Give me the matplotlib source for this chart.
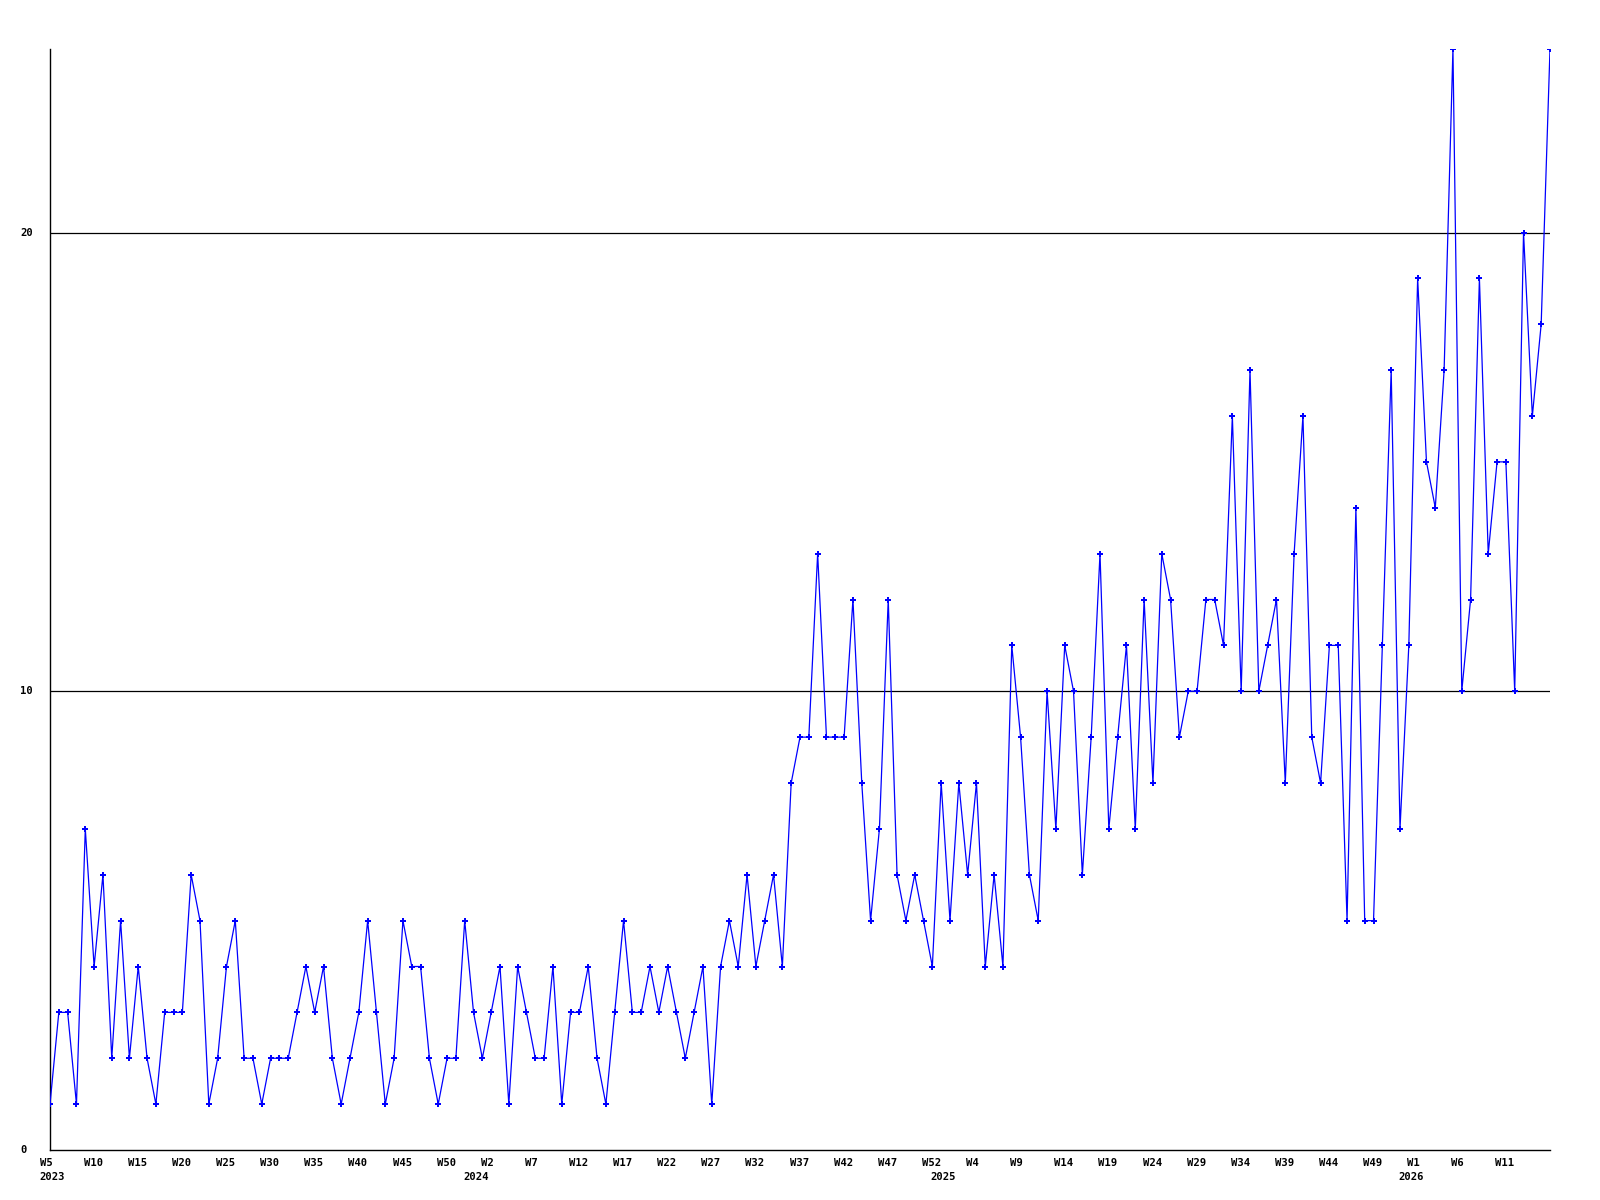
import matplotlib
matplotlib.use("Agg")
import matplotlib.pyplot as plt

# Weekly counts per year (first week number of each year's block given separately)
years = [2023, 2024, 2025, 2026]
first_week = [5, 0, 0, 0]
counts_2023 = [1, 3, 3, 1, 7, 4, 6, 2, 5, 2, 4, 2, 1, 3, 3, 3, 6, 5, 1, 2,
               4, 5, 2, 2, 1, 2, 2, 2, 3, 4, 3, 4, 2, 1, 2, 3, 5, 3, 1, 2,
               5, 4, 4, 2, 1, 2, 2, 5]
counts_2024 = [3, 2, 3, 4, 1, 4, 3, 2, 2, 4, 1, 3, 3, 4, 2, 1, 3, 5, 3, 3,
               4, 3, 4, 3, 2, 3, 4, 1, 4, 5, 4, 6, 4, 5, 6, 4, 8, 9, 9, 13,
               9, 9, 9, 12, 8, 5, 7, 12, 6, 5, 6, 5, 4]
counts_2025 = [8, 5, 8, 6, 8, 4, 6, 4, 11, 9, 6, 5, 10, 7, 11, 10, 6, 9, 13, 7,
               9, 11, 7, 12, 8, 13, 12, 9, 10, 10, 12, 12, 11, 16, 10, 17, 10, 11, 12, 8,
               13, 16, 9, 8, 11, 11, 5, 14, 5, 5, 11, 17, 7]
counts_2026 = [11, 19, 15, 14, 17, 24, 10, 12, 19, 13, 15, 15, 10, 20, 16, 18, 24]
year_counts = [counts_2023, counts_2024, counts_2025, counts_2026]
y_ticks = [0, 10, 20]
label_every = 5

values, weeks, year_of = [], [], []
for yr, fw, cs in zip(years, first_week, year_counts):
    for k, v in enumerate(cs):
        values.append(v)
        weeks.append(fw + k)
        year_of.append(yr)
x = list(range(len(values)))

PX = 0.72  # points per pixel at 100 dpi
fig = plt.figure(figsize=(16, 12), dpi=100)
W, H = 1600, 1200
ax = fig.add_axes([50 / W, (H - 1150) / H, 1500 / W, (1150 - 49) / H])
ax.set_xlim(0, len(values) - 1)
ax.set_ylim(0, 24)

for v in y_ticks[1:]:
    ax.axhline(v, color="black", linewidth=0.9, zorder=1)

ax.plot(x, values, color="#0000ff", linewidth=0.9, marker="P", markersize=3.8,
        markeredgewidth=0, zorder=3, clip_on=True)

for s in ["top", "right"]:
    ax.spines[s].set_visible(False)
for s in ["left", "bottom"]:
    ax.spines[s].set_linewidth(1.0)
    ax.spines[s].set_color("black")
ax.set_xticks([])
ax.set_yticks([])

font = dict(family="DejaVu Sans Mono", fontsize=7.6, fontweight="bold", color="black")

# x labels every 5 points (not at the final point), year labels at first point of each year
for i in x:
    if i % label_every == 0 and i < len(values) - 1:
        ax.annotate(f"W{weeks[i]}", xy=(i, 0), xycoords=("data", "axes fraction"),
                    xytext=(-10.4 * PX, -12.5 * PX), textcoords="offset points",
                    ha="left", va="center", annotation_clip=False, **font)
    if i == 0 or year_of[i] != year_of[i - 1]:
        ax.annotate(str(year_of[i]), xy=(i, 0), xycoords=("data", "axes fraction"),
                    xytext=(-10.4 * PX, -27.5 * PX), textcoords="offset points",
                    ha="left", va="center", annotation_clip=False, **font)

for v in y_ticks:
    ax.annotate(str(v), xy=(0, v), xycoords=("axes fraction", "data"),
                xytext=(-30 * PX, 0), textcoords="offset points",
                ha="left", va="center", annotation_clip=False, **font)

fig.savefig("out.png", dpi=100, facecolor="white")
